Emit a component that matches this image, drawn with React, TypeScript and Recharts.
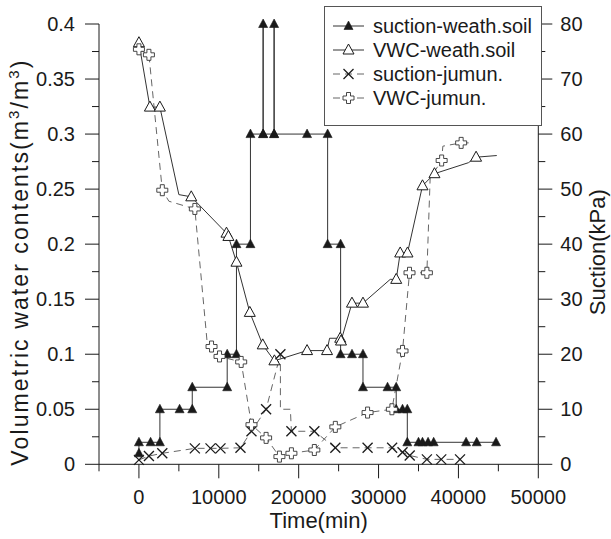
import React from "react";
import { LineChart, Line, XAxis, YAxis, Legend } from "recharts";

const FONT = "Arial, 'Liberation Sans', sans-serif";
const INK = "#1a1a1a";

// suction, weathered soil (kPa)
const sucWeathT = [0, 0, 1460, 2625, 2625, 5090, 6675, 6675, 11050, 11050, 12210, 12210, 13960, 13960, 15550, 15550, 15550, 16925, 16925, 16925, 21050, 23625, 23625, 25250, 25250, 26675, 28050, 28050, 31125, 32210, 32210, 33000, 33600, 33600, 35000, 35500, 36200, 36900, 40960, 42290, 44710];
const sucWeathV = [2, 4, 4, 4, 10, 10, 10, 14, 14, 20, 20, 40, 40, 60, 60, 80, 60, 60, 80, 60, 60, 60, 40, 40, 20, 20, 20, 14, 14, 14, 10, 10, 10, 4, 4, 4, 4, 4, 4, 4, 4];

// volumetric water content, weathered soil
const vwcWeathT = [0, 1375, 2625, 5000, 6550, 10960, 11200, 12210, 13880, 15500, 16960, 21050, 23550, 23870, 25200, 25300, 26670, 28050, 31460, 32210, 32710, 33625, 35500, 37000, 41250, 42210, 44800];
const vwcWeathV = [0.383, 0.3245, 0.3245, 0.245, 0.243, 0.21, 0.207, 0.1836, 0.138, 0.1085, 0.094, 0.1033, 0.1033, 0.1145, 0.1145, 0.112, 0.1464, 0.1464, 0.168, 0.168, 0.192, 0.192, 0.253, 0.264, 0.274, 0.279, 0.2805];
const vwcWeathPlain = [3, 13, 18, 24, 26];

// suction, jumun (kPa)
const sucJumunT = [0, 1250, 2925, 7000, 8960, 10210, 12710, 14090, 15920, 17710, 17710, 18960, 19090, 21960, 24590, 28625, 31700, 33000, 33900, 36050, 37850, 40200];
const sucJumunV = [0.8, 1.5, 2, 2.9, 2.9, 2.9, 3, 6, 10, 20, 10, 10, 6, 6, 3, 3, 3, 2.2, 1.6, 0.9, 0.9, 0.9];
const sucJumunPlain = [10, 11];

// volumetric water content, jumun
const vwcJumunT = [0, 1250, 2925, 3750, 7000, 8550, 9090, 10090, 12800, 14090, 15920, 17590, 19090, 21960, 24590, 28625, 31670, 33000, 33875, 36050, 36460, 37900, 38050, 40340, 41700];
const vwcJumunV = [0.377, 0.372, 0.249, 0.239, 0.232, 0.11, 0.107, 0.098, 0.093, 0.036, 0.024, 0.007, 0.01, 0.013, 0.034, 0.047, 0.05, 0.103, 0.174, 0.174, 0.26, 0.276, 0.289, 0.292, 0.292];
const vwcJumunPlain = [3, 5, 20, 22, 24];

const xTicks = [-5000, 0, 5000, 10000, 15000, 20000, 25000, 30000, 35000, 40000, 45000, 50000];
const vwcTicks = [0, 0.025, 0.05, 0.075, 0.1, 0.125, 0.15, 0.175, 0.2, 0.225, 0.25, 0.275, 0.3, 0.325, 0.35, 0.375, 0.4];
const sucTicks = [0, 5, 10, 15, 20, 25, 30, 35, 40, 45, 50, 55, 60, 65, 70, 75, 80];

type Kind = "filledTri" | "openTri" | "cross" | "plus";

const rows = (t: number[], v: number[]) => t.map((x, i) => ({ t: x, y: v[i] }));

function Marker({ kind, cx, cy }: { kind: Kind; cx: number; cy: number }) {
  if (kind === "filledTri") {
    return <polygon points={`${cx},${cy - 5} ${cx - 4.5},${cy + 3.5} ${cx + 4.5},${cy + 3.5}`} fill={INK} stroke={INK} strokeWidth={0.6} />;
  }
  if (kind === "openTri") {
    return <polygon points={`${cx},${cy - 6} ${cx - 5.5},${cy + 4} ${cx + 5.5},${cy + 4}`} fill="#fff" stroke={INK} strokeWidth={1} />;
  }
  if (kind === "cross") {
    return (
      <g stroke={INK} strokeWidth={1.3}>
        <line x1={cx - 5} y1={cy - 5} x2={cx + 5} y2={cy + 5} />
        <line x1={cx - 5} y1={cy + 5} x2={cx + 5} y2={cy - 5} />
      </g>
    );
  }
  const a = 2;
  const b = 5.5;
  const pts = [
    [-a, -b], [a, -b], [a, -a], [b, -a], [b, a], [a, a], [a, b], [-a, b], [-a, a], [-b, a], [-b, -a], [-a, -a],
  ].map(([dx, dy]) => `${cx + dx},${cy + dy}`).join(" ");
  return <polygon points={pts} fill="#fff" stroke="#333" strokeWidth={0.9} />;
}

// knee points without a symbol are listed in the *Plain arrays
const dotFor = (kind: Kind, plain: number[] = []) => (p: any) => {
  const { cx, cy, index } = p;
  if (plain.includes(index) || cx == null || cy == null) return <g key={`d-${index}`} />;
  return <g key={`d-${index}`}><Marker kind={kind} cx={cx} cy={cy} /></g>;
};

const series = [
  { name: "suction-weath.soil", kind: "filledTri" as Kind, dash: undefined, stroke: "#333" },
  { name: "VWC-weath.soil", kind: "openTri" as Kind, dash: undefined, stroke: "#333" },
  { name: "suction-jumun.", kind: "cross" as Kind, dash: "7 5", stroke: "#666" },
  { name: "VWC-jumun.", kind: "plus" as Kind, dash: "7 5", stroke: "#666" },
];

function LegendBox() {
  return (
    <div style={{ width: 216, height: 118, border: "1px solid #555", background: "#fff", boxSizing: "content-box" }}>
      <svg width={216} height={118}>
        {series.map((s, i) => {
          const y = 19 + i * 24;
          return (
            <g key={s.name}>
              <line x1={8} x2={39} y1={y} y2={y} stroke={s.stroke} strokeDasharray={s.dash} />
              <Marker kind={s.kind} cx={23.5} cy={y} />
              <text x={48} y={y + 7} fontSize={20} fontFamily={FONT} fill={INK}>{s.name}</text>
            </g>
          );
        })}
      </svg>
    </div>
  );
}

function XTick({ x, y, payload }: any) {
  const v = payload.value;
  const major = v % 10000 === 0;
  return (
    <g>
      <line x1={x} x2={x} y1={y} y2={y + (major ? 14 : 7)} stroke={INK} />
      {major && v >= 0 && (
        <text x={x} y={y + 40} textAnchor="middle" fontSize={20} fontFamily={FONT} fill={INK}>{v}</text>
      )}
    </g>
  );
}

function VwcTick({ x, y, payload }: any) {
  const v = payload.value;
  const major = Math.round(v * 1000) % 50 === 0;
  return (
    <g>
      <line x1={x} x2={x - (major ? 14 : 7)} y1={y} y2={y} stroke={INK} />
      {major && (
        <text x={x - 24} y={y + 7} textAnchor="end" fontSize={20} fontFamily={FONT} fill={INK}>{String(Number(v.toFixed(3)))}</text>
      )}
    </g>
  );
}

function SucTick({ x, y, payload }: any) {
  const v = payload.value;
  const major = v % 10 === 0;
  return (
    <g>
      <line x1={x} x2={x + (major ? 14 : 7)} y1={y} y2={y} stroke={INK} />
      {major && (
        <text x={x + 22} y={y + 7} textAnchor="start" fontSize={20} fontFamily={FONT} fill={INK}>{v}</text>
      )}
    </g>
  );
}

function TimeTitle({ viewBox }: any) {
  const { x, y, width } = viewBox;
  return (
    <text x={x + width / 2} y={y + 64} textAnchor="middle" fontSize={22} fontFamily={FONT} fill={INK}>Time(min)</text>
  );
}

function VwcTitle({ viewBox }: any) {
  const cx = 20;
  const cy = viewBox.y + viewBox.height / 2 + 19;
  return (
    <text x={cx} y={cy} transform={`rotate(-90, ${cx}, ${cy})`} textAnchor="middle" dominantBaseline="central" fontSize={23} fontFamily={FONT} fill={INK} textLength={405} lengthAdjust="spacing">
      Volumetric water contents(m<tspan dy={-7} fontSize={15}>3</tspan><tspan dy={7}>/m</tspan><tspan dy={-7} fontSize={15}>3</tspan><tspan dy={7}>)</tspan>
    </text>
  );
}

function SucTitle({ viewBox }: any) {
  const cx = 598;
  const cy = viewBox.y + viewBox.height / 2 + 8;
  return (
    <text x={cx} y={cy} transform={`rotate(-90, ${cx}, ${cy})`} textAnchor="middle" dominantBaseline="central" fontSize={22} fontFamily={FONT} fill={INK}>
      Suction(kPa)
    </text>
  );
}

export default function App() {
  return (
    <div style={{ position: "absolute", left: 0, top: 0, background: "#fff" }}>
      <LineChart width={611} height={539} margin={{ top: 24, right: 12.7, bottom: 14.7, left: 39 }}>
        <XAxis
          type="number"
          dataKey="t"
          domain={[-5000, 50000]}
          ticks={xTicks}
          interval={0}
          tickSize={0}
          tickMargin={0}
          tickLine={false}
          height={60}
          axisLine={{ stroke: INK }}
          tick={<XTick />}
          label={<TimeTitle />}
        />
        <YAxis
          yAxisId="vwc"
          orientation="left"
          type="number"
          domain={[0, 0.4]}
          ticks={vwcTicks}
          interval={0}
          tickSize={0}
          tickMargin={0}
          tickLine={false}
          width={60}
          axisLine={{ stroke: INK }}
          tick={<VwcTick />}
          label={<VwcTitle />}
        />
        <YAxis
          yAxisId="suc"
          orientation="right"
          type="number"
          domain={[0, 80]}
          ticks={sucTicks}
          interval={0}
          tickSize={0}
          tickMargin={0}
          tickLine={false}
          width={60}
          axisLine={{ stroke: INK }}
          tick={<SucTick />}
          label={<SucTitle />}
        />
        <Legend
          layout="vertical"
          align="center"
          verticalAlign="middle"
          wrapperStyle={{ position: "absolute", left: 324, top: 6, width: 218, height: 120 }}
          content={() => <LegendBox />}
        />
        <Line
          yAxisId="suc"
          data={rows(sucWeathT, sucWeathV)}
          dataKey="y"
          name="suction-weath.soil"
          stroke="#333"
          strokeWidth={1}
          dot={dotFor("filledTri")}
          activeDot={false}
          isAnimationActive={false}
        />
        <Line
          yAxisId="vwc"
          data={rows(vwcWeathT, vwcWeathV)}
          dataKey="y"
          name="VWC-weath.soil"
          stroke="#333"
          strokeWidth={1}
          dot={dotFor("openTri", vwcWeathPlain)}
          activeDot={false}
          isAnimationActive={false}
        />
        <Line
          yAxisId="suc"
          data={rows(sucJumunT, sucJumunV)}
          dataKey="y"
          name="suction-jumun."
          stroke="#666"
          strokeWidth={1}
          strokeDasharray="7 5"
          dot={dotFor("cross", sucJumunPlain)}
          activeDot={false}
          isAnimationActive={false}
        />
        <Line
          yAxisId="vwc"
          data={rows(vwcJumunT, vwcJumunV)}
          dataKey="y"
          name="VWC-jumun."
          stroke="#666"
          strokeWidth={1}
          strokeDasharray="7 5"
          dot={dotFor("plus", vwcJumunPlain)}
          activeDot={false}
          isAnimationActive={false}
        />
      </LineChart>
    </div>
  );
}
